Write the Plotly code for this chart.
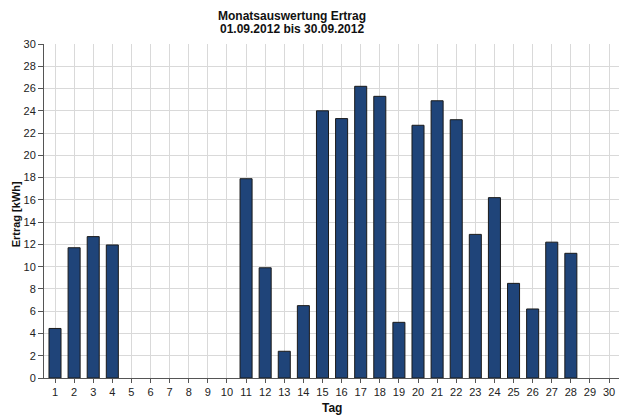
import plotly.graph_objects as go

days = list(range(1, 31))
ertrag = [4.45, 11.7, 12.7, 11.95, 0, 0, 0, 0, 0, 0,
          17.9, 9.9, 2.4, 6.5, 24.0, 23.3, 26.2, 25.3, 5.0, 22.7,
          24.9, 23.2, 12.9, 16.2, 8.5, 6.2, 12.2, 11.2, 0, 0]
y_ticks = list(range(0, 31, 2))

title_lines = ["Monatsauswertung Ertrag", "01.09.2012 bis 30.09.2012"]
x_title = "Tag"
y_title = "Ertrag [kWh]"

line_widths = [1 if v > 0 else 0 for v in ertrag]

fig = go.Figure()
fig.add_trace(go.Bar(
    x=days, y=ertrag, width=0.63,
    marker=dict(color="#1f4479", line=dict(color="#1a1a1a", width=line_widths)),
))

font = "Liberation Sans, Arial, sans-serif"
title_font = dict(family=font, size=12, color="#111111")
fig.update_layout(
    width=619, height=416,
    margin=dict(l=44, r=0, t=44, b=38, autoexpand=False),
    paper_bgcolor="white", plot_bgcolor="white",
    showlegend=False,
    font=dict(family=font, size=11, color="#222222"),
    xaxis=dict(
        range=[0.424, 30.52], tickmode="array", tickvals=days,
        ticktext=[str(d) for d in days],
        showgrid=True, gridcolor="#d9d9d9", gridwidth=1,
        showline=True, linecolor="#555555", linewidth=1,
        ticks="outside", ticklen=4, tickcolor="#555555",
        tickfont=dict(size=11, color="#222222"),
        ticklabeloverflow="allow",
        zeroline=False, automargin=False,
    ),
    yaxis=dict(
        range=[0, 30], tickmode="array", tickvals=y_ticks,
        showgrid=True, gridcolor="#d9d9d9", gridwidth=1,
        showline=True, linecolor="#555555", linewidth=1,
        ticks="outside", ticklen=5, tickcolor="#555555",
        tickfont=dict(size=11, color="#222222"),
        ticklabeloverflow="allow",
        zeroline=False, automargin=False,
    ),
    annotations=[
        dict(text="<b>" + title_lines[0] + "</b>",
             xref="paper", yref="paper", x=0.431, y=1, xanchor="center", yanchor="middle",
             yshift=28, showarrow=False, font=title_font),
        dict(text="<b>" + title_lines[1] + "</b>",
             xref="paper", yref="paper", x=0.431, y=1, xanchor="center", yanchor="middle",
             yshift=15, showarrow=False, font=title_font),
        dict(text="<b>" + x_title + "</b>",
             xref="paper", yref="paper", x=0.5, y=0, xanchor="center", yanchor="middle",
             yshift=-30, showarrow=False, font=title_font),
        dict(text="<b>" + y_title + "</b>", textangle=-90,
             xref="paper", yref="paper", x=-0.0487, y=0.49, xanchor="center", yanchor="middle",
             showarrow=False, font=dict(family=font, size=11, color="#111111")),
    ],
)

fig.write_html(
    "out.html",
    config={"displayModeBar": False},
    post_script="document.body.style.margin='0';document.body.style.overflow='hidden';",
)
